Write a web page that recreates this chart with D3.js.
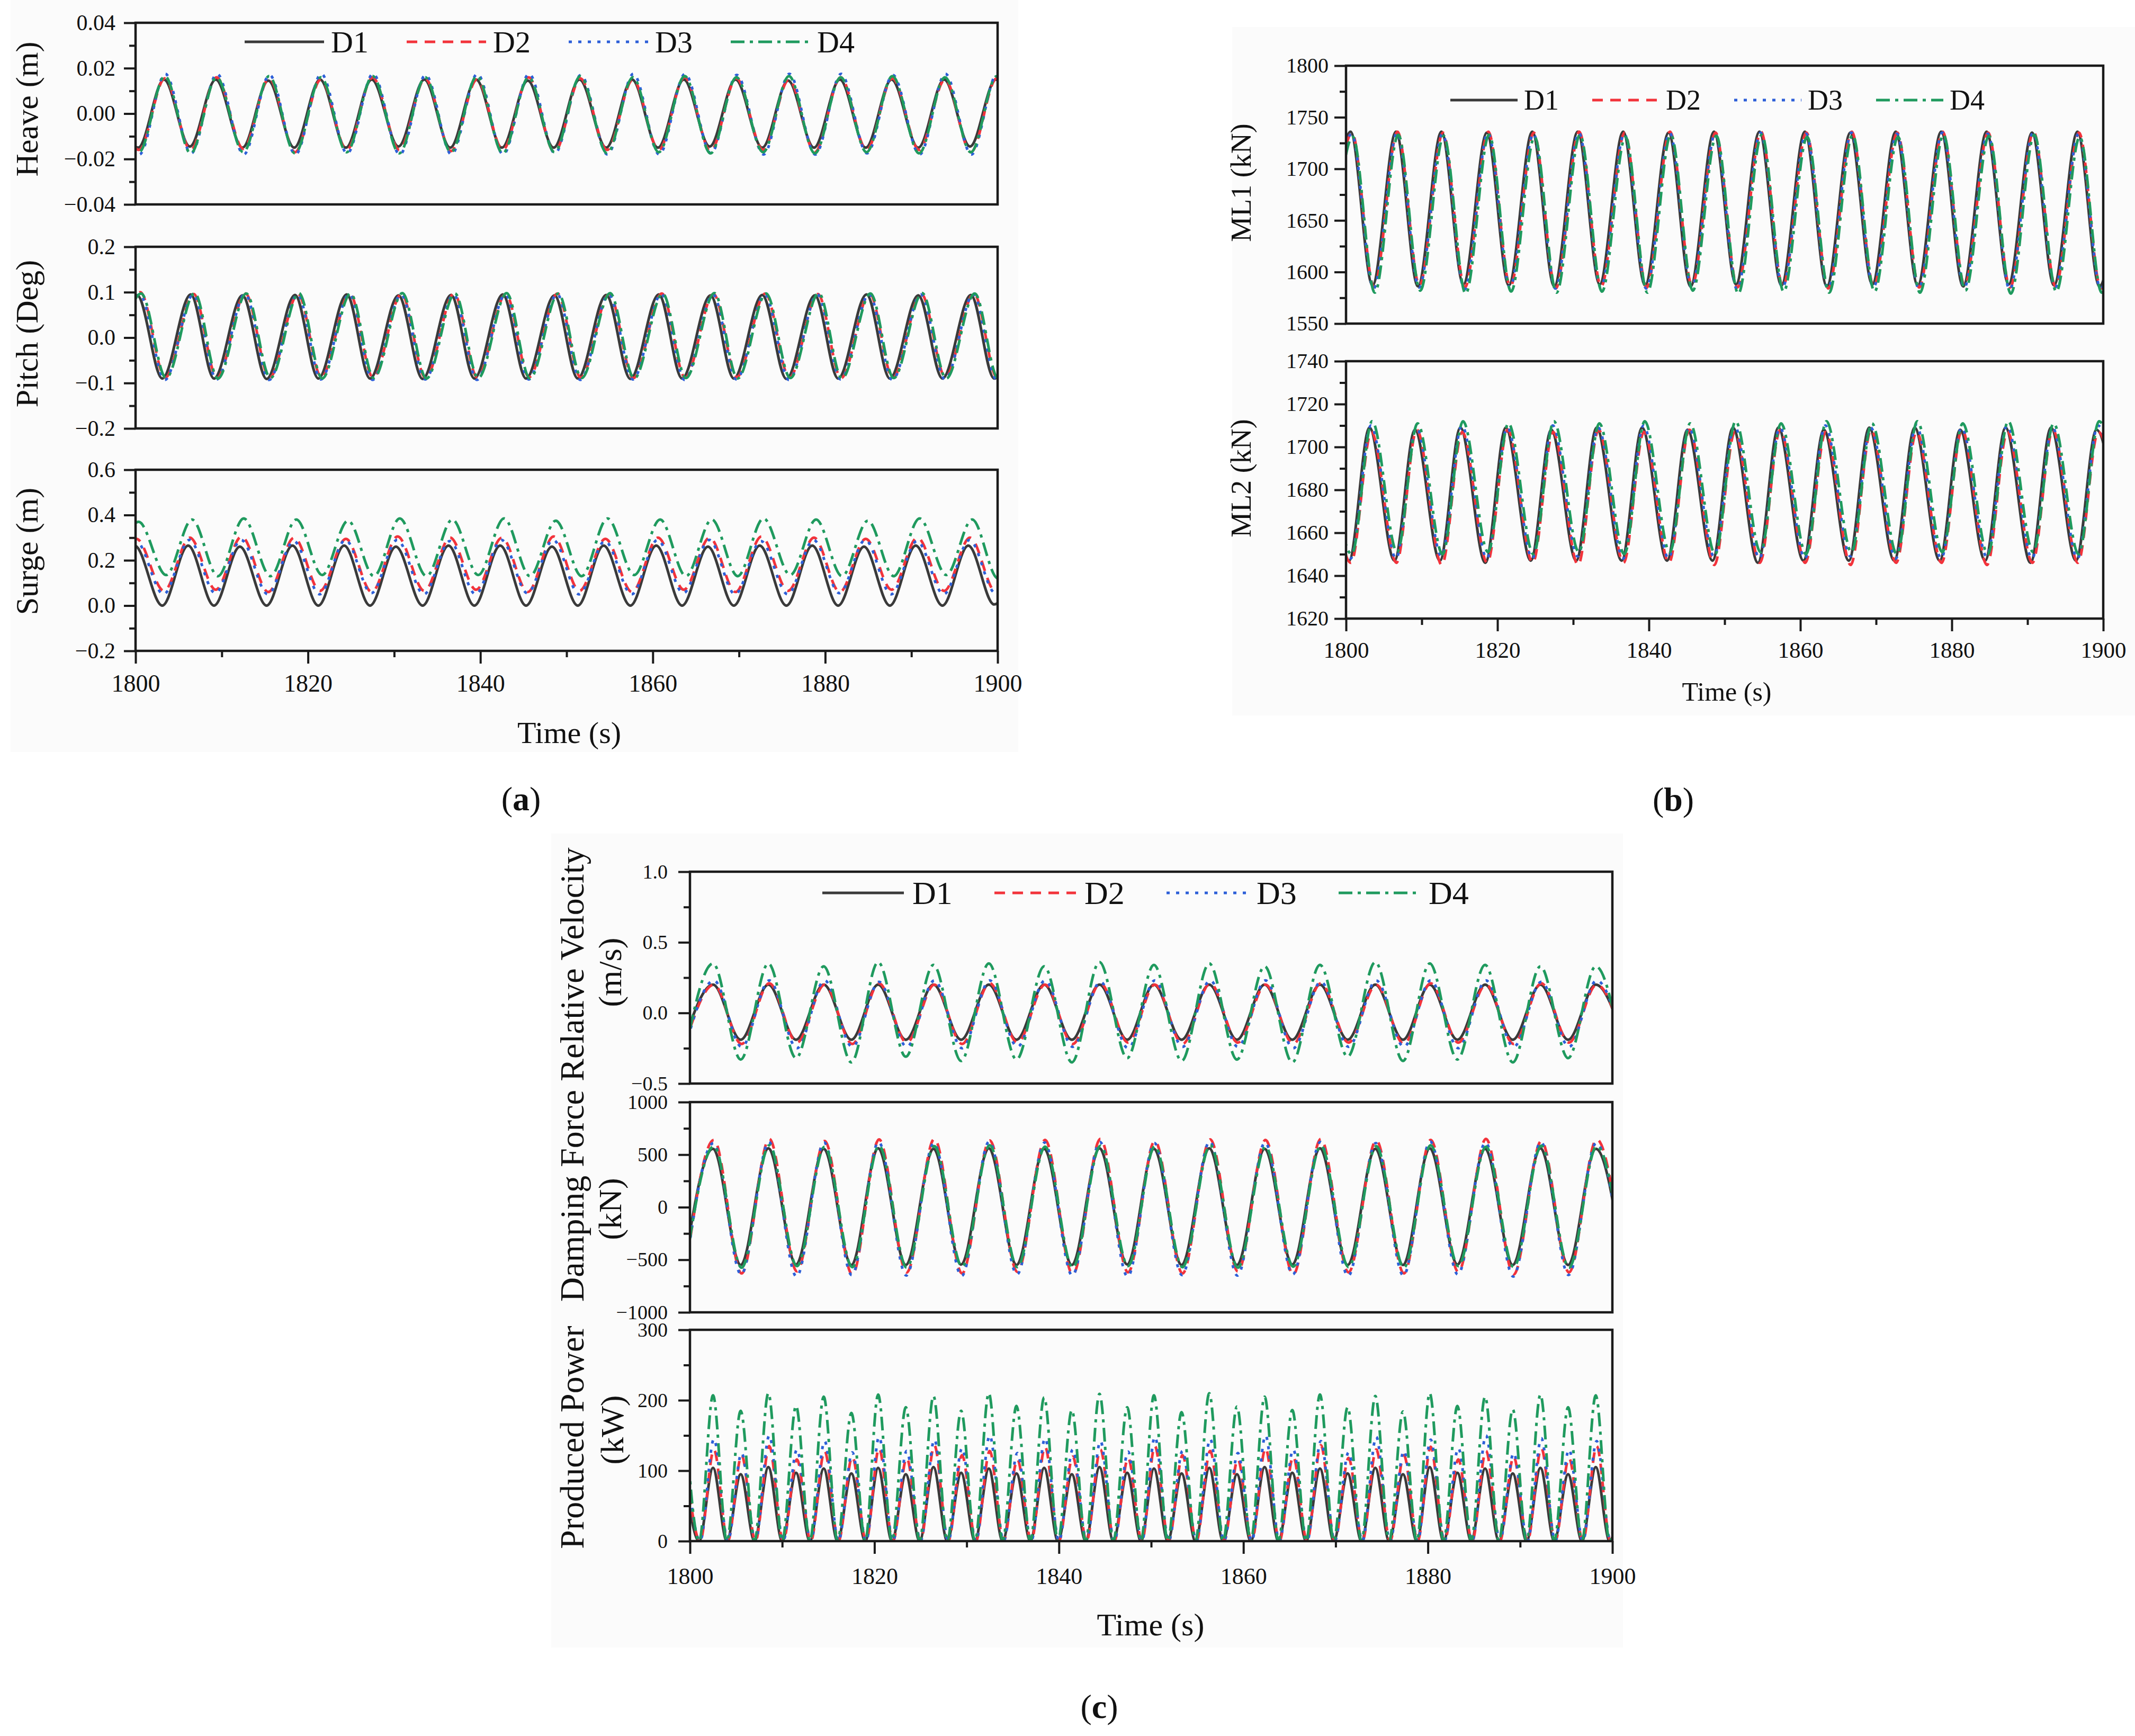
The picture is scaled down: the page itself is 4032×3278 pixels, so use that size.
<!DOCTYPE html>
<html lang="en">
<head>
<meta charset="UTF-8">
<title>D1-D4 time histories</title>
<script src="https://cdnjs.cloudflare.com/ajax/libs/d3/7.8.5/d3.min.js"></script>
<style>
  body { margin: 0; background: #fff; }
  svg text { font-family: "Liberation Serif", "Times New Roman", serif; fill: #111; }
</style>
</head>
<body>
<svg id="chart" width="4032" height="3278"></svg>
<script>
// ---- data (times of peaks/troughs, values at them) ----
var names = ["D1", "D2", "D3", "D4"];
var xTicks = [1800, 1820, 1840, 1860, 1880, 1900];
var xMinor = [1810, 1830, 1850, 1870, 1890];

// heave: even index = peak, odd = trough
var heaveT = [1797.3, 1800.3, 1803.3, 1806.3, 1809.3, 1812.4, 1815.4, 1818.4, 1821.4, 1824.4, 1827.4, 1830.5,
  1833.5, 1836.5, 1839.5, 1842.5, 1845.5, 1848.5, 1851.5, 1854.6, 1857.6, 1860.6, 1863.6, 1866.6,
  1869.6, 1872.7, 1875.7, 1878.7, 1881.7, 1884.7, 1887.7, 1890.8, 1893.8, 1896.8, 1899.8, 1902.8];
var heaveD1 = [0.015, -0.015, 0.015, -0.0145, 0.015, -0.015, 0.0145, -0.015, 0.015, -0.015, 0.015, -0.0145,
  0.015, -0.015, 0.015, -0.015, 0.0145, -0.015, 0.015, -0.015, 0.015, -0.015, 0.015, -0.0145,
  0.015, -0.015, 0.0145, -0.015, 0.015, -0.015, 0.015, -0.015, 0.015, -0.0145, 0.015, -0.015];
var heaveD2 = [0.015, -0.016, 0.0155, -0.016, 0.016, -0.0155, 0.0155, -0.017, 0.015, -0.016, 0.016, -0.016,
  0.0155, -0.0165, 0.015, -0.016, 0.016, -0.017, 0.0155, -0.016, 0.015, -0.016, 0.016, -0.0165,
  0.0155, -0.016, 0.015, -0.017, 0.016, -0.016, 0.0155, -0.016, 0.015, -0.017, 0.0155, -0.016];
var heaveD3 = [0.017, -0.018, 0.0175, -0.0175, 0.0175, -0.018, 0.017, -0.018, 0.0175, -0.0175, 0.0175, -0.018,
  0.017, -0.018, 0.0175, -0.018, 0.0175, -0.0175, 0.017, -0.018, 0.0175, -0.018, 0.0175, -0.0175,
  0.017, -0.018, 0.0175, -0.018, 0.0175, -0.0175, 0.017, -0.018, 0.0175, -0.018, 0.0175, -0.0175];
var heaveD4 = [0.016, -0.017, 0.0165, -0.0175, 0.016, -0.017, 0.0165, -0.0175, 0.016, -0.017, 0.0165, -0.0175,
  0.016, -0.017, 0.0165, -0.0175, 0.016, -0.017, 0.0165, -0.0175, 0.016, -0.017, 0.0165, -0.0175,
  0.016, -0.017, 0.0165, -0.0175, 0.016, -0.017, 0.0165, -0.0175, 0.016, -0.017, 0.0165, -0.0175];
var heaveLag = [0, 0.1, 0.15, 0.1];

// pitch: even = trough, odd = peak
var pitchT = [1797.1, 1800.2, 1803.1, 1806.4, 1809.1, 1812.4, 1815.2, 1818.5, 1821.2, 1824.5, 1827.2, 1830.5,
  1833.3, 1836.6, 1839.3, 1842.6, 1845.3, 1848.6, 1851.3, 1854.6, 1857.4, 1860.7, 1863.4, 1866.7,
  1869.4, 1872.7, 1875.5, 1878.8, 1881.5, 1884.8, 1887.5, 1890.8, 1893.6, 1896.9, 1899.6, 1902.9];
var pitchD1 = [-0.09, 0.093, -0.09, 0.095, -0.09, 0.093, -0.091, 0.094, -0.09, 0.095, -0.09, 0.093,
  -0.091, 0.094, -0.09, 0.095, -0.09, 0.093, -0.09, 0.094, -0.091, 0.095, -0.09, 0.093,
  -0.09, 0.094, -0.091, 0.093, -0.09, 0.095, -0.09, 0.093, -0.09, 0.094, -0.09, 0.093];
var pitchD2 = [-0.088, 0.1, -0.088, 0.096, -0.089, 0.097, -0.088, 0.096, -0.087, 0.097, -0.088, 0.096,
  -0.089, 0.097, -0.088, 0.096, -0.087, 0.097, -0.088, 0.096, -0.089, 0.097, -0.088, 0.096,
  -0.087, 0.097, -0.088, 0.096, -0.089, 0.097, -0.088, 0.096, -0.087, 0.097, -0.088, 0.096];
var pitchD3 = [-0.092, 0.095, -0.093, 0.095, -0.092, 0.096, -0.093, 0.095, -0.092, 0.096, -0.093, 0.095,
  -0.092, 0.095, -0.093, 0.095, -0.092, 0.096, -0.093, 0.095, -0.092, 0.096, -0.093, 0.095,
  -0.092, 0.095, -0.093, 0.095, -0.092, 0.096, -0.093, 0.095, -0.092, 0.096, -0.093, 0.095];
var pitchD4 = [-0.09, 0.097, -0.089, 0.098, -0.09, 0.097, -0.089, 0.098, -0.09, 0.097, -0.089, 0.098,
  -0.09, 0.097, -0.089, 0.098, -0.09, 0.097, -0.089, 0.098, -0.09, 0.097, -0.089, 0.098,
  -0.09, 0.097, -0.089, 0.098, -0.09, 0.097, -0.089, 0.098, -0.09, 0.097, -0.089, 0.098];
var pitchLag = [0, 0.35, 0.3, 0.45];

// surge: even = trough, odd = peak
var surgeT = [1797.1, 1799.9, 1803.1, 1806.1, 1809.1, 1812.1, 1815.2, 1818.2, 1821.2, 1824.2, 1827.2, 1830.2,
  1833.3, 1836.3, 1839.3, 1842.3, 1845.3, 1848.3, 1851.3, 1854.3, 1857.4, 1860.4, 1863.4, 1866.4,
  1869.4, 1872.4, 1875.5, 1878.5, 1881.5, 1884.5, 1887.5, 1890.5, 1893.6, 1896.6, 1899.6, 1902.6];
var surgeD1 = [0.0, 0.265, 0.0, 0.265, 0.0, 0.26, 0.0, 0.265, 0.0, 0.265, 0.0, 0.26,
  0.0, 0.265, 0.0, 0.265, 0.0, 0.26, 0.0, 0.265, 0.0, 0.265, 0.0, 0.26,
  0.0, 0.265, 0.0, 0.265, 0.0, 0.26, 0.0, 0.265, 0.0, 0.265, 0.005, 0.26];
var surgeD2 = [0.06, 0.295, 0.065, 0.3, 0.07, 0.305, 0.06, 0.3, 0.065, 0.295, 0.06, 0.305,
  0.065, 0.3, 0.07, 0.3, 0.06, 0.305, 0.065, 0.295, 0.06, 0.3, 0.07, 0.3,
  0.06, 0.305, 0.065, 0.3, 0.06, 0.295, 0.07, 0.3, 0.065, 0.3, 0.06, 0.295];
var surgeD3 = [0.05, 0.285, 0.05, 0.29, 0.055, 0.29, 0.05, 0.285, 0.05, 0.29, 0.055, 0.29,
  0.05, 0.285, 0.05, 0.29, 0.055, 0.29, 0.05, 0.285, 0.05, 0.29, 0.055, 0.29,
  0.05, 0.285, 0.05, 0.29, 0.055, 0.29, 0.05, 0.285, 0.05, 0.29, 0.055, 0.29];
var surgeD4 = [0.13, 0.37, 0.135, 0.38, 0.13, 0.385, 0.13, 0.38, 0.135, 0.375, 0.13, 0.385,
  0.13, 0.38, 0.135, 0.385, 0.13, 0.375, 0.13, 0.385, 0.135, 0.38, 0.13, 0.38,
  0.13, 0.385, 0.135, 0.38, 0.13, 0.375, 0.13, 0.385, 0.135, 0.38, 0.12, 0.38];
var surgeLag = [0, 0.2, 0.15, 0.45];

// ML1: even = trough, odd = peak
var ml1T = [1797.5, 1800.6, 1803.5, 1806.6, 1809.5, 1812.6, 1815.5, 1818.6, 1821.5, 1824.6, 1827.5, 1830.6,
  1833.5, 1836.6, 1839.5, 1842.6, 1845.5, 1848.6, 1851.5, 1854.6, 1857.5, 1860.6, 1863.5, 1866.6,
  1869.5, 1872.6, 1875.5, 1878.6, 1881.5, 1884.6, 1887.5, 1890.6, 1893.5, 1896.6, 1899.5, 1902.6];
var ml1D1 = [1588, 1736, 1587, 1736, 1586, 1736, 1588, 1735, 1587, 1736, 1586, 1736,
  1588, 1736, 1587, 1735, 1586, 1736, 1588, 1736, 1587, 1736, 1586, 1735,
  1588, 1736, 1587, 1736, 1586, 1736, 1588, 1735, 1587, 1736, 1586, 1736];
var ml1D2 = [1586, 1735, 1585, 1736, 1587, 1735, 1585, 1736, 1586, 1735, 1584, 1736,
  1586, 1735, 1585, 1736, 1587, 1735, 1585, 1736, 1586, 1735, 1584, 1736,
  1586, 1735, 1585, 1736, 1587, 1735, 1585, 1736, 1586, 1735, 1584, 1736];
var ml1D3 = [1585, 1734, 1584, 1735, 1585, 1734, 1583, 1735, 1585, 1734, 1584, 1735,
  1585, 1734, 1584, 1735, 1585, 1734, 1583, 1735, 1585, 1734, 1584, 1735,
  1585, 1734, 1584, 1735, 1585, 1734, 1583, 1735, 1585, 1734, 1584, 1735];
var ml1D4 = [1581, 1731, 1580, 1733, 1582, 1732, 1579, 1733, 1581, 1731, 1580, 1733,
  1581, 1731, 1580, 1733, 1582, 1732, 1579, 1733, 1581, 1731, 1580, 1733,
  1581, 1731, 1580, 1733, 1582, 1732, 1579, 1733, 1581, 1731, 1580, 1733];
var ml1Lag = [0, 0.2, 0.15, 0.3];

// ML2: even = peak, odd = trough
var ml2T = [1797.1, 1800.4, 1803.1, 1806.4, 1809.1, 1812.4, 1815.1, 1818.4, 1821.1, 1824.4, 1827.1, 1830.4,
  1833.1, 1836.4, 1839.1, 1842.4, 1845.1, 1848.4, 1851.1, 1854.4, 1857.1, 1860.4, 1863.1, 1866.4,
  1869.1, 1872.4, 1875.1, 1878.4, 1881.1, 1884.4, 1887.1, 1890.4, 1893.1, 1896.4, 1899.1, 1902.4];
var ml2D1 = [1709, 1647, 1709, 1647, 1708, 1647, 1709, 1646, 1709, 1647, 1708, 1647,
  1709, 1647, 1709, 1647, 1708, 1647, 1709, 1646, 1709, 1647, 1708, 1647,
  1709, 1647, 1709, 1647, 1708, 1647, 1709, 1646, 1709, 1647, 1708, 1647];
var ml2D2 = [1708, 1646, 1707, 1646, 1708, 1645, 1707, 1646, 1708, 1646, 1707, 1645,
  1708, 1646, 1707, 1646, 1708, 1645, 1707, 1646, 1708, 1646, 1707, 1645,
  1708, 1646, 1707, 1646, 1708, 1645, 1707, 1646, 1708, 1646, 1707, 1645];
var ml2D3 = [1709, 1648, 1710, 1648, 1709, 1649, 1710, 1648, 1709, 1648, 1710, 1649,
  1709, 1648, 1710, 1648, 1709, 1649, 1710, 1648, 1709, 1648, 1710, 1649,
  1709, 1648, 1710, 1648, 1709, 1649, 1710, 1648, 1709, 1648, 1710, 1649];
var ml2D4 = [1711, 1650, 1712, 1651, 1711, 1650, 1712, 1651, 1711, 1650, 1712, 1651,
  1711, 1650, 1712, 1651, 1711, 1650, 1712, 1651, 1711, 1650, 1712, 1651,
  1711, 1650, 1712, 1651, 1711, 1650, 1712, 1651, 1711, 1650, 1712, 1651];
var ml2Lag = [0, 0.25, 0.2, 0.35];

// relative velocity and damping force: even = trough, odd = peak
var dampT = [1799.4, 1802.5, 1805.5, 1808.5, 1811.5, 1814.5, 1817.5, 1820.4, 1823.4, 1826.4, 1829.4, 1832.4,
  1835.4, 1838.4, 1841.4, 1844.4, 1847.4, 1850.3, 1853.3, 1856.3, 1859.3, 1862.3, 1865.3, 1868.3,
  1871.3, 1874.3, 1877.3, 1880.2, 1883.2, 1886.2, 1889.2, 1892.2, 1895.2, 1898.2, 1901.2];
var velD1 = [-0.19, 0.2, -0.19, 0.2, -0.19, 0.2, -0.19, 0.2, -0.19, 0.2, -0.19, 0.2,
  -0.19, 0.2, -0.19, 0.2, -0.19, 0.2, -0.19, 0.2, -0.19, 0.2, -0.19, 0.2,
  -0.19, 0.2, -0.19, 0.2, -0.19, 0.2, -0.19, 0.2, -0.19, 0.2, -0.19];
var velD2 = [-0.21, 0.2, -0.22, 0.21, -0.21, 0.2, -0.22, 0.21, -0.21, 0.2, -0.22, 0.21,
  -0.21, 0.2, -0.22, 0.21, -0.21, 0.2, -0.22, 0.21, -0.21, 0.2, -0.22, 0.21,
  -0.21, 0.2, -0.22, 0.21, -0.21, 0.2, -0.22, 0.21, -0.21, 0.2, -0.22];
var velD3 = [-0.24, 0.23, -0.24, 0.23, -0.25, 0.23, -0.24, 0.22, -0.24, 0.23, -0.25, 0.23,
  -0.24, 0.23, -0.24, 0.22, -0.25, 0.23, -0.24, 0.23, -0.24, 0.23, -0.25, 0.22,
  -0.24, 0.23, -0.24, 0.23, -0.25, 0.23, -0.24, 0.22, -0.24, 0.23, -0.25];
var velD4 = [-0.3, 0.35, -0.33, 0.35, -0.32, 0.33, -0.35, 0.36, -0.31, 0.34, -0.34, 0.35,
  -0.33, 0.33, -0.35, 0.36, -0.32, 0.34, -0.34, 0.35, -0.33, 0.33, -0.35, 0.34,
  -0.31, 0.36, -0.34, 0.35, -0.33, 0.34, -0.35, 0.33, -0.32, 0.33, -0.34];
var velLag = [0, 0.1, 0.1, 0];
var forceD1 = [-550, 555, -550, 560, -545, 555, -550, 560, -550, 555, -545, 560,
  -550, 555, -550, 560, -545, 555, -550, 560, -550, 555, -545, 560,
  -550, 555, -550, 560, -545, 555, -550, 560, -550, 555, -545];
var forceD2 = [-620, 640, -630, 650, -610, 630, -640, 645, -620, 650, -630, 635,
  -615, 640, -640, 650, -620, 630, -630, 645, -610, 640, -640, 650,
  -620, 635, -630, 640, -615, 650, -640, 630, -620, 645, -630];
var forceD3 = [-650, 610, -640, 620, -660, 615, -645, 620, -650, 610, -655, 625,
  -640, 615, -650, 620, -660, 610, -645, 625, -650, 615, -640, 620,
  -655, 610, -650, 625, -640, 615, -660, 620, -645, 610, -670];
var forceD4 = [-570, 580, -575, 590, -560, 575, -570, 585, -575, 580, -565, 590,
  -570, 575, -575, 585, -560, 580, -570, 590, -575, 575, -565, 585,
  -570, 580, -575, 590, -560, 575, -570, 585, -575, 580, -565];
var forceLag = [0, 0.1, 0.05, 0.1];

// produced power: even = peak, odd = zero
var powerT = [1799.4, 1801.0, 1802.5, 1804.0, 1805.5, 1807.0, 1808.5, 1810.0, 1811.5, 1813.0, 1814.5, 1816.0,
  1817.5, 1819.0, 1820.4, 1821.9, 1823.4, 1824.9, 1826.4, 1827.9, 1829.4, 1830.9, 1832.4, 1833.9,
  1835.4, 1836.9, 1838.4, 1839.9, 1841.4, 1842.9, 1844.4, 1845.9, 1847.4, 1848.9, 1850.3, 1851.8,
  1853.3, 1854.8, 1856.3, 1857.8, 1859.3, 1860.8, 1862.3, 1863.8, 1865.3, 1866.8, 1868.3, 1869.8,
  1871.3, 1872.8, 1874.3, 1875.8, 1877.3, 1878.8, 1880.2, 1881.7, 1883.2, 1884.7, 1886.2, 1887.7,
  1889.2, 1890.7, 1892.2, 1893.7, 1895.2, 1896.7, 1898.2, 1899.7, 1901.2];
var powerD1 = [96, 0, 104, 0, 95, 0, 105, 0, 97, 0, 103, 0,
  96, 0, 104, 0, 95, 0, 105, 0, 97, 0, 103, 0,
  96, 0, 104, 0, 95, 0, 105, 0, 97, 0, 103, 0,
  96, 0, 104, 0, 95, 0, 105, 0, 97, 0, 103, 0,
  96, 0, 104, 0, 95, 0, 105, 0, 97, 0, 103, 0,
  96, 0, 104, 0, 95, 0, 105, 0, 97];
var powerD2 = [118, 0, 130, 0, 122, 0, 135, 0, 116, 0, 128, 0,
  120, 0, 132, 0, 118, 0, 136, 0, 122, 0, 128, 0,
  116, 0, 134, 0, 120, 0, 130, 0, 118, 0, 135, 0,
  122, 0, 128, 0, 116, 0, 132, 0, 120, 0, 136, 0,
  118, 0, 130, 0, 122, 0, 134, 0, 116, 0, 128, 0,
  120, 0, 132, 0, 118, 0, 135, 0, 122];
var powerD3 = [128, 0, 145, 0, 125, 0, 150, 0, 130, 0, 142, 0,
  126, 0, 148, 0, 128, 0, 144, 0, 132, 0, 150, 0,
  125, 0, 146, 0, 130, 0, 142, 0, 127, 0, 148, 0,
  128, 0, 145, 0, 125, 0, 150, 0, 130, 0, 142, 0,
  126, 0, 148, 0, 128, 0, 144, 0, 132, 0, 150, 0,
  125, 0, 146, 0, 130, 0, 142, 0, 128];
var powerD4 = [190, 0, 207, 0, 185, 0, 210, 0, 192, 0, 205, 0,
  182, 0, 208, 0, 190, 0, 206, 0, 185, 0, 210, 0,
  192, 0, 204, 0, 186, 0, 209, 0, 190, 0, 207, 0,
  183, 0, 210, 0, 191, 0, 205, 0, 186, 0, 208, 0,
  190, 0, 206, 0, 184, 0, 210, 0, 192, 0, 205, 0,
  187, 0, 208, 0, 190, 0, 207, 0, 185];
var powerLag = [0, 0.1, 0.1, 0];

// ---- drawing ----
var svg = d3.select("#chart");
var colors = ["#3a3a3a", "#f2333b", "#2d5fd8", "#1f9a5e"];
var dashes = [null, "20,14", "6,12", "26,10,6,10"];
var clipN = 0;

// very faint grey image areas of the three sub-figures
[[20, 0, 1903, 1420], [2327, 51, 1705, 1300], [1041, 1574, 2024, 1537]].forEach(function (r) {
  svg.append("rect").attr("x", r[0]).attr("y", r[1]).attr("width", r[2]).attr("height", r[3])
    .attr("fill", "#fbfbfb");
});

function plot(c) {
  var x = d3.scaleLinear().domain([1800, 1900]).range([c.left, c.right]);
  var y = d3.scaleLinear().domain(c.domain).range([c.bottom, c.top]);
  var id = "clip" + (clipN++);
  svg.append("clipPath").attr("id", id).append("rect")
    .attr("x", c.left).attr("y", c.top)
    .attr("width", c.right - c.left).attr("height", c.bottom - c.top);

  var line = d3.line()
    .x(function (d) { return x(d[0]); })
    .y(function (d) { return y(d[1]); })
    .curve(d3.curveMonotoneX);

  var lg = svg.append("g").attr("clip-path", "url(#" + id + ")");
  c.series.forEach(function (vals, i) {
    var pts = c.times.map(function (t, j) { return [t + c.lags[i], vals[j]]; });
    lg.append("path")
      .attr("d", line(pts))
      .attr("fill", "none")
      .attr("stroke", colors[i])
      .attr("stroke-width", 5)
      .attr("stroke-dasharray", dashes[i]);
  });

  svg.append("rect")
    .attr("x", c.left).attr("y", c.top)
    .attr("width", c.right - c.left).attr("height", c.bottom - c.top)
    .attr("fill", "none").attr("stroke", "#1a1a1a").attr("stroke-width", 4.5);

  var gy = svg.append("g").attr("transform", "translate(" + c.left + ",0)")
    .call(d3.axisLeft(y).tickValues(c.ticks).tickSize(22).tickPadding(c.pad).tickFormat(c.fmt));
  var gm = svg.append("g").attr("transform", "translate(" + c.left + ",0)")
    .call(d3.axisLeft(y).tickValues(c.minor).tickSize(12).tickFormat(""));
  [gy, gm].forEach(function (g) {
    g.select(".domain").remove();
    g.selectAll("line").attr("stroke", "#1a1a1a").attr("stroke-width", 4);
  });
  gy.attr("font-size", c.fs);

  if (c.xpad) {
    var gx = svg.append("g").attr("transform", "translate(0," + c.bottom + ")")
      .call(d3.axisBottom(x).tickValues(xTicks).tickSize(24).tickPadding(c.xpad).tickFormat(d3.format("d")));
    var gxm = svg.append("g").attr("transform", "translate(0," + c.bottom + ")")
      .call(d3.axisBottom(x).tickValues(xMinor).tickSize(12).tickFormat(""));
    [gx, gxm].forEach(function (g) {
      g.select(".domain").remove();
      g.selectAll("line").attr("stroke", "#1a1a1a").attr("stroke-width", 4);
    });
    gx.attr("font-size", c.xfs);
  }
}

function vlabel(x, y, txt, fs) {
  svg.append("text")
    .attr("transform", "translate(" + x + "," + y + ") rotate(-90)")
    .attr("text-anchor", "middle").attr("dominant-baseline", "central")
    .attr("font-size", fs).text(txt);
}

function hlabel(x, y, txt, fs) {
  svg.append("text").attr("x", x).attr("y", y)
    .attr("text-anchor", "middle").attr("dominant-baseline", "central")
    .attr("font-size", fs).text(txt);
}

function legend(x0, yc, len, gap, step, fs) {
  names.forEach(function (n, i) {
    var lx = x0 + i * step;
    svg.append("line")
      .attr("x1", lx).attr("x2", lx + len).attr("y1", yc).attr("y2", yc)
      .attr("stroke", colors[i]).attr("stroke-width", 5)
      .attr("stroke-dasharray", dashes[i]);
    svg.append("text").attr("x", lx + len + gap).attr("y", yc)
      .attr("dominant-baseline", "central").attr("font-size", fs).text(n);
  });
}

function tag(x, y, letter) {
  var t = svg.append("text").attr("x", x).attr("y", y)
    .attr("text-anchor", "middle").attr("dominant-baseline", "central").attr("font-size", 64);
  t.append("tspan").text("(");
  t.append("tspan").attr("font-weight", "bold").text(letter);
  t.append("tspan").text(")");
}

var f2 = d3.format(".2f"), f1 = d3.format(".1f"), f0 = d3.format("d");

// (a)
plot({ left: 256, right: 1884, top: 43, bottom: 386, domain: [-0.04, 0.04],
  ticks: [-0.04, -0.02, 0, 0.02, 0.04], minor: [-0.03, -0.01, 0.01, 0.03], fmt: f2, pad: 16, fs: 42,
  times: heaveT, series: [heaveD1, heaveD2, heaveD3, heaveD4], lags: heaveLag });
plot({ left: 256, right: 1884, top: 466, bottom: 809, domain: [-0.2, 0.2],
  ticks: [-0.2, -0.1, 0, 0.1, 0.2], minor: [-0.15, -0.05, 0.05, 0.15], fmt: f1, pad: 16, fs: 42,
  times: pitchT, series: [pitchD1, pitchD2, pitchD3, pitchD4], lags: pitchLag });
plot({ left: 256, right: 1884, top: 887, bottom: 1229, domain: [-0.2, 0.6],
  ticks: [-0.2, 0, 0.2, 0.4, 0.6], minor: [-0.1, 0.1, 0.3, 0.5], fmt: f1, pad: 16, fs: 42,
  times: surgeT, series: [surgeD1, surgeD2, surgeD3, surgeD4], lags: surgeLag, xpad: 20, xfs: 46 });
vlabel(51, 206, "Heave (m)", 60);
vlabel(51, 630, "Pitch (Deg)", 60);
vlabel(51, 1041, "Surge (m)", 60);
hlabel(1075, 1383, "Time (s)", 58);
legend(462, 79, 150, 13, 306, 58);
tag(984, 1508, "a");

// (b)
plot({ left: 2542, right: 3972, top: 124, bottom: 611, domain: [1550, 1800],
  ticks: [1550, 1600, 1650, 1700, 1750, 1800], minor: [1575, 1625, 1675, 1725, 1775], fmt: f0, pad: 11, fs: 40,
  times: ml1T, series: [ml1D1, ml1D2, ml1D3, ml1D4], lags: ml1Lag });
plot({ left: 2542, right: 3972, top: 682, bottom: 1168, domain: [1620, 1740],
  ticks: [1620, 1640, 1660, 1680, 1700, 1720, 1740], minor: [1630, 1650, 1670, 1690, 1710, 1730], fmt: f0, pad: 11, fs: 40,
  times: ml2T, series: [ml2D1, ml2D2, ml2D3, ml2D4], lags: ml2Lag, xpad: 19, xfs: 43 });
vlabel(2344, 345, "ML1 (kN)", 54);
vlabel(2344, 903, "ML2 (kN)", 54);
hlabel(3261, 1306, "Time (s)", 50);
legend(2739, 189, 127, 12, 268, 54);
tag(3160, 1509, "b");

// (c)
plot({ left: 1303, right: 3045, top: 1646, bottom: 2046, domain: [-0.5, 1.0],
  ticks: [-0.5, 0, 0.5, 1.0], minor: [-0.25, 0.25, 0.75], fmt: f1, pad: 20, fs: 38,
  times: dampT, series: [velD1, velD2, velD3, velD4], lags: velLag });
plot({ left: 1303, right: 3045, top: 2081, bottom: 2478, domain: [-1000, 1000],
  ticks: [-1000, -500, 0, 500, 1000], minor: [-750, -250, 250, 750], fmt: f0, pad: 20, fs: 38,
  times: dampT, series: [forceD1, forceD2, forceD3, forceD4], lags: forceLag });
plot({ left: 1303, right: 3045, top: 2511, bottom: 2910, domain: [0, 300],
  ticks: [0, 100, 200, 300], minor: [50, 150, 250], fmt: f0, pad: 20, fs: 38,
  times: powerT, series: [powerD1, powerD2, powerD3, powerD4], lags: powerLag, xpad: 26, xfs: 44 });
vlabel(1080, 1821, "Relative Velocity", 64);
vlabel(1152, 1836, "(m/s)", 62);
vlabel(1080, 2258, "Damping Force", 64);
vlabel(1152, 2283, "(kN)", 62);
vlabel(1080, 2714, "Produced Power", 64);
vlabel(1156, 2700, "(kW)", 62);
hlabel(2173, 3068, "Time (s)", 60);
legend(1553, 1686, 154, 16, 325, 62);
tag(2076, 3222, "c");
</script>
</body>
</html>
